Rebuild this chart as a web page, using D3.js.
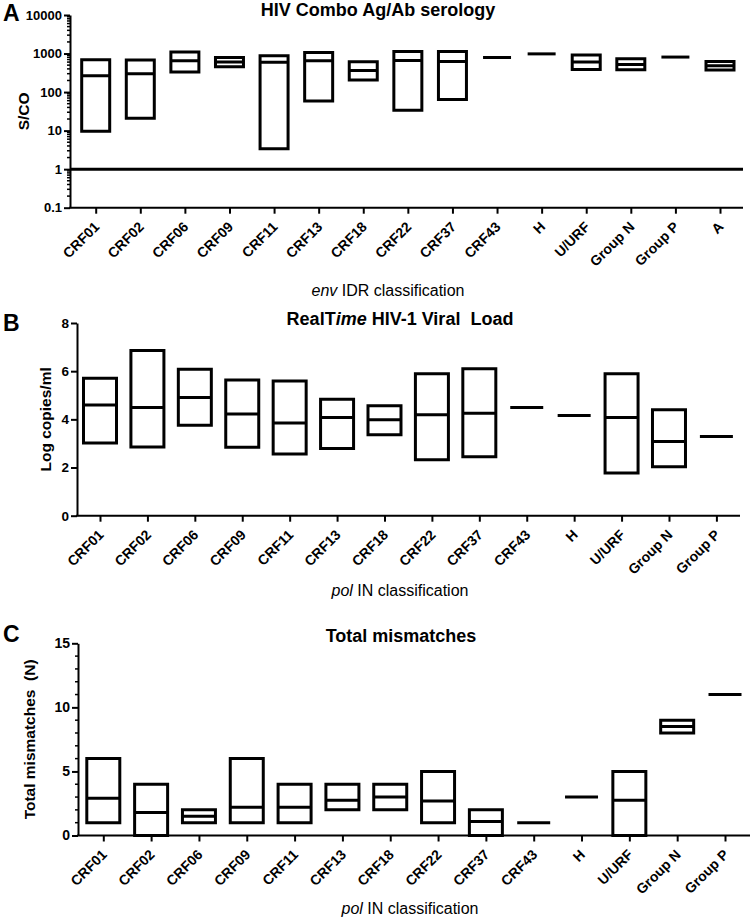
<!DOCTYPE html>
<html><head><meta charset="utf-8">
<script src="https://cdn.jsdelivr.net/npm/d3@7"></script>
<style>
body{margin:0;background:#fff;}
svg{font-family:"Liberation Sans",Arial,sans-serif;}
text{white-space:pre;}
</style></head>
<body><svg id="c" width="750" height="918"></svg>
<script>
// ---------- DATA ----------
const catsA = ["CRF01","CRF02","CRF06","CRF09","CRF11","CRF13","CRF18","CRF22","CRF37","CRF43","H","U/URF","Group N","Group P","A"];
const serMin = [9.7, 20.8, 330, 455, 3.4, 59, 206, 34, 64, 790, 980, 388, 380, 810, 373];
const serMed = [267, 300, 650, 600, 590, 650, 365, 660, 624, 790, 980, 600, 520, 810, 480];
const serMax = [690, 675, 1090, 790, 875, 1070, 612, 1130, 1130, 790, 980, 910, 730, 810, 624];
const serTicks = [0.1, 1, 10, 100, 1000, 10000];
const serTickLabels = ["0.1","1","10","100","1000","10000"];
const cutoff = 1;

const catsBC = ["CRF01","CRF02","CRF06","CRF09","CRF11","CRF13","CRF18","CRF22","CRF37","CRF43","H","U/URF","Group N","Group P"];
const vlMin = [3.02, 2.85, 3.75, 2.84, 2.56, 2.79, 3.36, 2.32, 2.45, 4.49, 4.16, 1.77, 2.03, 3.29];
const vlMed = [4.60, 4.49, 4.91, 4.22, 3.85, 4.08, 3.98, 4.19, 4.25, 4.49, 4.16, 4.08, 3.08, 3.29];
const vlMax = [5.71, 6.86, 6.08, 5.63, 5.59, 4.83, 4.56, 5.89, 6.10, 4.49, 4.16, 5.89, 4.40, 3.29];
const vlTicks = [0, 2, 4, 6, 8];

const mmMin = [1, 0, 1, 1, 1, 2, 2, 1, 0, 1, 3, 0, 8, 11];
const mmMed = [2.9, 1.8, 1.5, 2.2, 2.2, 2.75, 3, 2.7, 1.1, 1, 3, 2.75, 8.5, 11];
const mmMax = [6, 4, 2, 6, 4, 4, 4, 5, 2, 1, 3, 5, 9, 11];
const mmTicks = [0, 5, 10, 15];
const mmMinor = [1,2,3,4,6,7,8,9,11,12,13,14];

// ---------- DRAW ----------
const svg = d3.select("#c");

function panel(o) {
  const g = svg.append("g");
  const x = d3.scalePoint().domain(o.cats).range([o.xFirst, o.xLast]);
  const y = o.y;
  // boxes
  o.cats.forEach((c, i) => {
    const cx = x(c), hw = o.boxW / 2;
    const yt = y(o.max[i]), yb = y(o.min[i]), ym = y(o.med[i]);
    const p = d3.path();
    if (o.max[i] === o.min[i]) {
      p.moveTo(cx - hw, ym); p.lineTo(cx + hw, ym);
    } else {
      p.moveTo(cx - hw, yt); p.lineTo(cx + hw, yt); p.lineTo(cx + hw, yb); p.lineTo(cx - hw, yb); p.closePath();
      p.moveTo(cx - hw, ym); p.lineTo(cx + hw, ym);
    }
    g.append("path").attr("d", p.toString()).attr("fill", "none")
      .attr("stroke", "#000").attr("stroke-width", 3).attr("stroke-linejoin", "miter");
  });
  const yBase = y.range()[0];
  // x axis
  const xa = g.append("g").attr("transform", `translate(0,${yBase})`)
    .call(d3.axisBottom(x).tickSize(6).tickSizeOuter(0));
  xa.select(".domain").remove();
  xa.selectAll(".tick line").attr("stroke", "#000").attr("stroke-width", 2);
  xa.selectAll(".tick text").attr("font-size", o.xfs).attr("font-weight", "bold").attr("fill", "#000")
    .attr("text-anchor", "end").attr("dy", 0).attr("y", 0)
    .attr("transform", "translate(4,20) rotate(-45)");
  g.append("line").attr("x1", o.axisX - 1).attr("x2", o.axisRight).attr("y1", yBase).attr("y2", yBase)
    .attr("stroke", "#000").attr("stroke-width", 2);
  // y axis
  const ya = g.append("g").attr("transform", `translate(${o.axisX},0)`)
    .call(d3.axisLeft(y).tickValues(o.ticks).tickFormat((d, i) => o.tickLabels ? o.tickLabels[i] : d).tickSize(6).tickSizeOuter(0));
  ya.select(".domain").attr("stroke", "#000").attr("stroke-width", 2);
  ya.selectAll(".tick line").attr("stroke", "#000").attr("stroke-width", 2);
  ya.selectAll(".tick text").attr("font-size", o.yfs).attr("font-weight", "bold").attr("fill", "#000").attr("x", -8);
  if (o.minor) {
    g.selectAll(null).data(o.minor).enter().append("line")
      .attr("x1", o.axisX - 3).attr("x2", o.axisX).attr("y1", d => y(d)).attr("y2", d => y(d))
      .attr("stroke", "#000").attr("stroke-width", 1.5);
  }
  // titles
  const t = g.append("text").attr("x", o.titleX).attr("y", o.titleY).attr("text-anchor", "middle")
    .attr("font-size", 18).attr("font-weight", "bold");
  o.title.forEach(s => t.append("tspan").text(s[0]).attr("font-style", s[1] ? "italic" : "normal"));
  const xt = g.append("text").attr("x", o.xtX).attr("y", o.xtY).attr("text-anchor", "middle")
    .attr("font-size", 16);
  o.xtitle.forEach(s => xt.append("tspan").text(s[0]).attr("font-style", s[1] ? "italic" : "normal"));
  const [r0, r1] = y.range();
  g.append("text").attr("transform", `translate(${o.ytX},${(r0 + r1) / 2}) rotate(-90)`)
    .attr("text-anchor", "middle").attr("font-size", 15.5).attr("font-weight", "bold").text(o.ytitle);
  g.append("text").attr("x", 3).attr("y", o.letterY).attr("font-size", 23).attr("font-weight", "bold").text(o.letter);
  return {g, x, y};
}

// Panel A
const yA = d3.scaleLog().domain([0.1, 10000]).range([207.7, 15]);
const minorA = [];
for (let e = -1; e < 4; e++) for (let k = 2; k < 10; k++) minorA.push(k * Math.pow(10, e));
const pA = panel({
  cats: catsA, min: serMin, med: serMed, max: serMax, y: yA,
  xFirst: 95.7, xLast: 720, axisX: 70, axisRight: 743, boxW: 28,
  ticks: serTicks, tickLabels: serTickLabels, minor: minorA, xfs: 14, yfs: 13,
  title: [["HIV Combo Ag/Ab serology", false]], titleX: 378, titleY: 16,
  xtitle: [["env", true], [" IDR classification", false]], xtX: 388, xtY: 296,
  ytitle: "S/CO", ytX: 29, letter: "A", letterY: 21
});
pA.g.append("line").attr("x1", 70).attr("x2", 743).attr("y1", yA(cutoff)).attr("y2", yA(cutoff))
  .attr("stroke", "#000").attr("stroke-width", 3);

// Panel B
const yB = d3.scaleLinear().domain([0, 8]).range([515.7, 323]);
panel({
  cats: catsBC, min: vlMin, med: vlMed, max: vlMax, y: yB,
  xFirst: 100, xLast: 716.4, axisX: 77, axisRight: 740, boxW: 33,
  ticks: vlTicks, xfs: 14, yfs: 13.5,
  title: [["RealT", false], ["ime", true], [" HIV-1 Viral  Load", false]], titleX: 400, titleY: 325,
  xtitle: [["pol", true], [" IN classification", false]], xtX: 400, xtY: 596,
  ytitle: "Log copies/ml", ytX: 51, letter: "B", letterY: 331
});

// Panel C
const yC = d3.scaleLinear().domain([0, 15]).range([835.5, 643.3]);
panel({
  cats: catsBC, min: mmMin, med: mmMed, max: mmMax, y: yC,
  xFirst: 103.3, xLast: 725, axisX: 78, axisRight: 750, boxW: 33,
  ticks: mmTicks, minor: mmMinor, xfs: 14, yfs: 14,
  title: [["Total mismatches", false]], titleX: 401, titleY: 642,
  xtitle: [["pol", true], [" IN classification", false]], xtX: 410, xtY: 914,
  ytitle: "Total mismatches  (N)", ytX: 35, letter: "C", letterY: 642
});
</script></body></html>
